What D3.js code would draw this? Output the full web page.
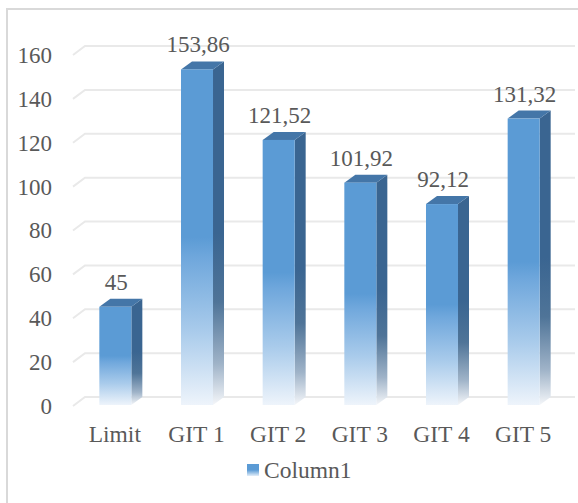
<!DOCTYPE html>
<html>
<head>
<meta charset="utf-8">
<script src="https://cdn.jsdelivr.net/npm/d3@7/dist/d3.min.js"></script>
<style>
  html, body { margin: 0; padding: 0; background: #fff; }
  svg { display: block; }
  svg text { font-family: 'Liberation Serif', Tinos, 'Times New Roman', Times, 'DejaVu Serif', serif !important; fill: #595959; }
</style>
</head>
<body>
<svg id="chart" width="578" height="503"></svg>
<script>
// Column data
const categories = ["Limit", "GIT 1", "GIT 2", "GIT 3", "GIT 4", "GIT 5"];
const values = [45, 153.86, 121.52, 101.92, 92.12, 131.32];
const yTicks = [0, 20, 40, 60, 80, 100, 120, 140, 160];
const seriesName = "Column1";

const FONT = "'Liberation Serif', Tinos, 'Times New Roman', Times, 'DejaVu Serif', serif";
const svg = d3.select("#chart");
const W = 578, H = 503;

// chart frame (open to the right and bottom)
svg.append("path")
  .attr("d", `M7,${H} L7,9 L${W},9`)
  .attr("fill", "none").attr("stroke", "#d9d9d9").attr("stroke-width", 2);

// front plane of the 3D plot
const x = d3.scaleBand().domain(categories).range([73, 563])
  .paddingInner(0.608).paddingOuter(0.304);
const y = d3.scaleLinear().domain([0, 160]).range([406, 55]);
// bars stand slightly behind the front plane
const yBar = y.copy().range([405, 56]);
const depth = { dx: 12, dy: 9 };      // floor/wall depth
const barDepth = { dx: 11, dy: 8 };   // bar thickness
const barShift = 1.5;

const defs = svg.append("defs");
const front = defs.append("linearGradient").attr("id", "gFront")
  .attr("x1", 0).attr("y1", 0).attr("x2", 0).attr("y2", 1);
[[0, "#5b9bd5"], [0.5, "#5b9bd5"], [0.56, "#6fa7dc"], [0.78, "#a9cbeb"], [1, "#eef4fb"]]
  .forEach(([o, c]) => front.append("stop").attr("offset", o).attr("stop-color", c));
const side = defs.append("linearGradient").attr("id", "gSide")
  .attr("x1", 0).attr("y1", 0).attr("x2", 0).attr("y2", 1);
[[0, "#3a6591"], [0.5, "#3a6591"], [0.7, "#4f7498"], [0.88, "#9fb3c8"], [1, "#f4f6f9"]]
  .forEach(([o, c]) => side.append("stop").attr("offset", o).attr("stop-color", c));
const legendGrad = defs.append("linearGradient").attr("id", "gLegend")
  .attr("x1", 0).attr("y1", 0).attr("x2", 0).attr("y2", 1);
[[0, "#5b9bd5"], [0.5, "#5b9bd5"], [1, "#e3eef9"]]
  .forEach(([o, c]) => legendGrad.append("stop").attr("offset", o).attr("stop-color", c));

// gridlines: short diagonal on the side wall, then along the back wall
const x0 = x.range()[0];
svg.append("g").selectAll("path").data(yTicks).join("path")
  .attr("d", t => `M${x0},${y(t)} L${x0 + depth.dx},${y(t) - depth.dy} L575,${y(t) - depth.dy}`)
  .attr("fill", "none").attr("stroke", "#e9e9e9").attr("stroke-width", 2);

// value axis labels
const yAxis = svg.append("g").attr("transform", "translate(60,0)")
  .call(d3.axisLeft(y).tickValues(yTicks).tickSize(0).tickPadding(8).tickFormat(d3.format("d")));
yAxis.attr("font-family", FONT).attr("font-size", 23);
yAxis.select(".domain").remove();
yAxis.selectAll("text").attr("font-size", 23).attr("fill", "#595959").style("font-family", FONT);

// 3D columns
const bars = svg.append("g").selectAll("g").data(values).join("g");
bars.each(function (v, i) {
  const g = d3.select(this);
  const bx = x(categories[i]) + barShift;
  const bw = x.bandwidth();
  const top = yBar(v), base = yBar(0);
  g.append("path") // side face
    .attr("d", `M${bx + bw},${top} L${bx + bw + barDepth.dx},${top - barDepth.dy} L${bx + bw + barDepth.dx},${base - barDepth.dy} L${bx + bw},${base} Z`)
    .attr("fill", "url(#gSide)");
  g.append("path") // top face
    .attr("d", `M${bx},${top} L${bx + barDepth.dx},${top - barDepth.dy} L${bx + bw + barDepth.dx},${top - barDepth.dy} L${bx + bw},${top} Z`)
    .attr("fill", "#4476a8");
  g.append("rect") // front face
    .attr("x", bx).attr("y", top).attr("width", bw).attr("height", base - top)
    .attr("fill", "url(#gFront)");
});

// data labels
const fmt = v => String(v).replace(".", ",");
svg.append("g").selectAll("text").data(values).join("text")
  .attr("x", (v, i) => x(categories[i]) + barShift + x.bandwidth() / 2 + 1)
  .attr("y", v => yBar(v) - 17)
  .attr("text-anchor", "middle").attr("font-size", 23).style("font-family", FONT)
  .text(fmt);

// category labels
svg.append("g").selectAll("text").data(categories).join("text")
  .attr("x", c => x(c) + x.bandwidth() / 2 + 1)
  .attr("y", 442)
  .attr("text-anchor", "middle").attr("font-size", 23.5).style("font-family", FONT)
  .text(c => c);

// legend
const lg = svg.append("g");
lg.append("rect").attr("x", 247).attr("y", 464).attr("width", 12).attr("height", 12)
  .attr("fill", "url(#gLegend)");
lg.append("text").attr("x", 264).attr("y", 478).attr("font-size", 23.5).style("font-family", FONT)
  .text(seriesName);
</script>
</body>
</html>
